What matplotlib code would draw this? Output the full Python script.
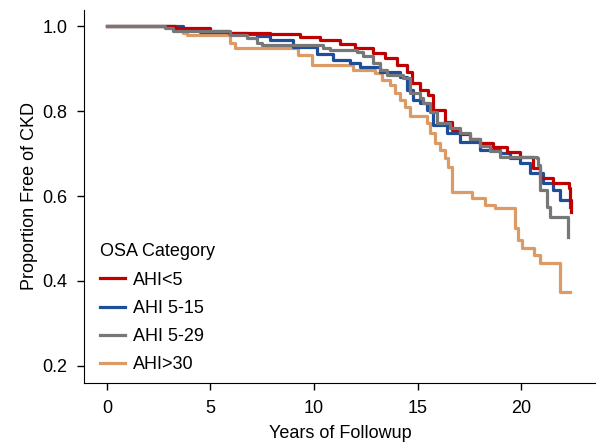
import matplotlib
matplotlib.use("Agg")
import matplotlib.pyplot as plt

plt.rcParams['font.family'] = ['Liberation Sans', 'DejaVu Sans']

# Kaplan-Meier step points (years, proportion free of CKD)
t_lt5 = [0, 3.28, 4.97, 5.89, 7.86, 9.31, 10.27, 11.24, 11.96, 12.83, 13.41, 13.99,
         14.47, 14.71, 15.10, 15.49, 15.73, 16.30, 16.64, 17.03, 17.51, 17.99, 18.62,
         19.30, 19.92, 20.55, 20.89, 21.51, 22.29, 22.34, 22.38]
s_lt5 = [1.0, 0.996, 0.990, 0.985, 0.982, 0.975, 0.968, 0.959, 0.949, 0.938, 0.926, 0.909,
         0.892, 0.867, 0.850, 0.838, 0.803, 0.774, 0.755, 0.746, 0.735, 0.725, 0.716,
         0.704, 0.692, 0.666, 0.643, 0.631, 0.619, 0.590, 0.563]

t_5_15 = [0, 3.28, 3.67, 4.49, 5.93, 6.75, 7.24, 7.86, 8.97, 10.13, 10.90, 11.72, 12.20,
          13.17, 14.13, 14.47, 14.76, 15.10, 15.44, 15.73, 16.40, 17.03, 17.99, 18.96,
          19.44, 19.92, 20.41, 21.03, 21.51, 21.85, 22.33]
s_5_15 = [1.0, 1.0, 0.992, 0.987, 0.984, 0.981, 0.978, 0.968, 0.952, 0.935, 0.921, 0.914,
          0.904, 0.892, 0.881, 0.850, 0.826, 0.819, 0.803, 0.768, 0.749, 0.727, 0.708,
          0.701, 0.689, 0.678, 0.654, 0.631, 0.614, 0.591, 0.574]

t_5_29 = [0, 2.80, 3.18, 3.86, 5.93, 6.75, 7.24, 7.48, 8.97, 10.42, 10.76, 12.06, 12.35,
          12.83, 13.17, 13.51, 14.28, 14.62, 15.10, 15.24, 15.58, 15.92, 16.55, 17.03,
          17.51, 17.99, 18.48, 18.96, 20.74, 20.79, 20.89, 21.22, 21.37, 22.24, 22.26]
s_5_29 = [1.0, 0.995, 0.990, 0.988, 0.980, 0.973, 0.961, 0.956, 0.955, 0.949, 0.944, 0.940,
          0.929, 0.914, 0.897, 0.885, 0.878, 0.843, 0.831, 0.819, 0.798, 0.772, 0.761,
          0.748, 0.735, 0.718, 0.705, 0.692, 0.689, 0.673, 0.614, 0.574, 0.550, 0.503, 0.503]

t_gt30 = [0, 3.18, 3.28, 3.67, 3.86, 5.93, 6.17, 9.21, 9.89, 11.87, 12.93, 13.27, 13.65,
          13.89, 14.13, 14.38, 14.62, 15.44, 15.58, 15.82, 16.06, 16.30, 16.45, 16.64,
          17.61, 18.23, 18.72, 19.68, 19.83, 20.02, 20.60, 20.89, 21.85, 22.33]
s_gt30 = [1.0, 1.0, 0.992, 0.985, 0.979, 0.961, 0.948, 0.933, 0.910, 0.897, 0.890, 0.874,
          0.862, 0.843, 0.827, 0.810, 0.789, 0.772, 0.749, 0.725, 0.708, 0.689, 0.668,
          0.610, 0.595, 0.579, 0.572, 0.525, 0.496, 0.478, 0.461, 0.442, 0.374, 0.374]

labels = ['AHI<5', 'AHI 5-15', 'AHI 5-29', 'AHI>30']
colors = ['#c00000', '#1f4e99', '#777777', '#dc9a66']

fig = plt.figure(figsize=(5.96, 4.47), dpi=100)
ax = fig.add_axes([0.141, 0.143, 0.859, 0.835])

series = [(t_lt5, s_lt5), (t_5_15, s_5_15), (t_5_29, s_5_29), (t_gt30, s_gt30)]
zorders = [3, 2, 4, 1]
lines = []
for (t, s), lab, c, z in zip(series, labels, colors, zorders):
    ln, = ax.step(t, s, where='post', color=c, lw=2.3, label=lab, zorder=z)
    lines.append(ln)

ax.set_xlim(-1.1, 23.6)
ax.set_ylim(0.159, 1.039)
ax.set_xticks([0, 5, 10, 15, 20])
ax.set_yticks([0.2, 0.4, 0.6, 0.8, 1.0])
ax.set_yticklabels(['0.2', '0.4', '0.6', '0.8', '1.0'])
ax.tick_params(direction='out', length=5, width=1, labelsize=13, pad=7)
ax.spines['top'].set_visible(False)
ax.spines['right'].set_visible(False)
ax.set_xlabel('Years of Followup', fontsize=13, labelpad=6)
ax.set_ylabel('Proportion Free of CKD', fontsize=13, labelpad=3)

leg = ax.legend(lines, labels, title='OSA Category', loc='upper left',
                bbox_to_anchor=(0.031, 0.374), frameon=False, fontsize=13,
                title_fontsize=13, handlelength=1.4, handletextpad=0.45,
                labelspacing=0.62, borderpad=0, borderaxespad=0, alignment='left')

fig.savefig('out.png', dpi=100)
